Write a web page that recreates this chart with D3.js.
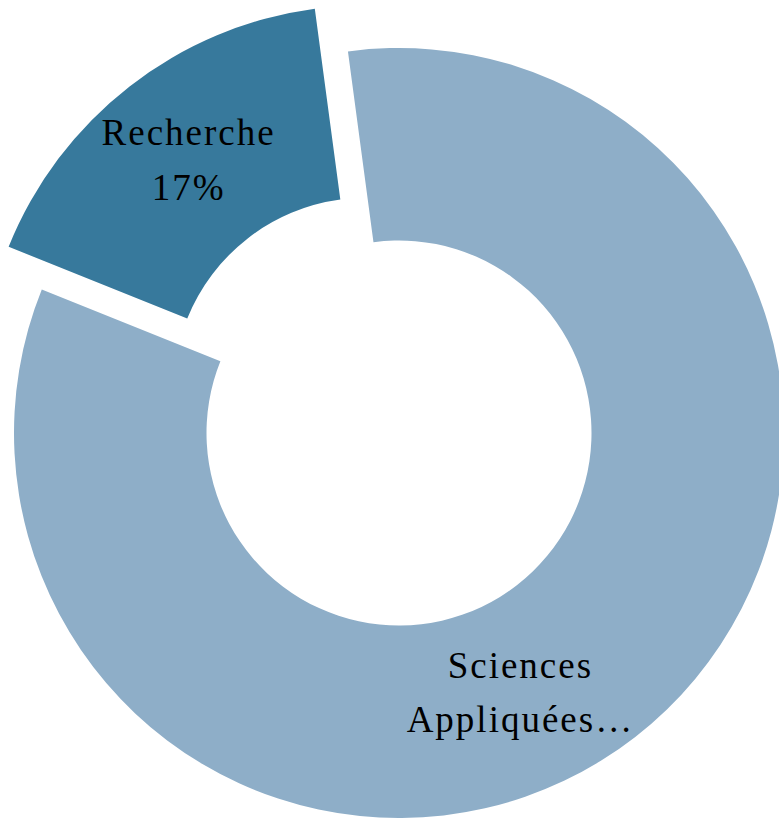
<!DOCTYPE html>
<html>
<head>
<meta charset="utf-8">
<script src="https://cdn.jsdelivr.net/npm/d3@7"></script>
<style>
  html, body { margin: 0; padding: 0; background: #fff; overflow: hidden; }
  .label { font-family: "Liberation Serif", "Times New Roman", serif; font-size: 37px; letter-spacing: 2px; fill: #000; }
</style>
</head>
<body>
<div class="js-container"></div>
<script>
;(function() {
  'use strict';

  // Slices, in drawing order (clockwise from the start angle).
  var categories = ['Recherche', 'Sciences Appliquées'];
  var values = [16.8, 83.2];
  var colors = ['#37799c', '#8eaec8'];
  // Text shown in each slice (the second one is cut off in the original).
  var labelLines = [['Recherche', '17%'], ['Sciences', 'Appliquées…']];
  var exploded = [true, false];

  var W = 779, H = 818;
  var cx = 399, cy = 433;
  var outerR = 385, innerR = 192.5;
  var explodeDist = 54;
  var startDeg = -68.1;
  // Angle nudge (degrees) applied to each label's centroid.
  var labelShift = [0, 13];
  var lineH = 54.5;

  var svg = d3.select('.js-container').append('svg')
      .attr('width', W)
      .attr('height', H);

  var g = svg.append('g').attr('transform', 'translate(' + cx + ',' + cy + ')');

  var pie = d3.pie()
      .sort(null)
      .value(function(d) { return d; })
      .startAngle(startDeg * Math.PI / 180)
      .endAngle(startDeg * Math.PI / 180 + 2 * Math.PI);

  var arc = d3.arc().innerRadius(innerR).outerRadius(outerR);

  var arcs = pie(values);

  /**
   * Pull-out offset for a slice, along its middle angle.
   */
  function offset(d, i) {
    if (!exploded[i]) return [0, 0];
    var a = (d.startAngle + d.endAngle) / 2;
    return [Math.sin(a) * explodeDist, -Math.cos(a) * explodeDist];
  }

  var slices = g.selectAll('.slice')
      .data(arcs)
      .enter().append('g')
      .attr('class', 'slice')
      .attr('transform', function(d, i) {
        var o = offset(d, i);
        return 'translate(' + o[0] + ',' + o[1] + ')';
      });

  slices.append('path')
      .attr('d', arc)
      .attr('fill', function(d, i) { return colors[i]; })
      .append('title')
      .text(function(d, i) { return categories[i]; });

  slices.each(function(d, i) {
    var a = (d.startAngle + d.endAngle) / 2 + labelShift[i] * Math.PI / 180;
    var r = (innerR + outerR) / 2;
    var x = Math.sin(a) * r, y = -Math.cos(a) * r;
    var lines = labelLines[i];
    var top = y - 17 - (lines.length - 2) * lineH / 2;
    var text = d3.select(this).append('text')
        .attr('class', 'label')
        .attr('text-anchor', 'middle');
    lines.forEach(function(line, k) {
      text.append('tspan')
          .attr('x', x)
          .attr('y', top + k * lineH)
          .text(line);
    });
  });

}());
</script>
</body>
</html>
